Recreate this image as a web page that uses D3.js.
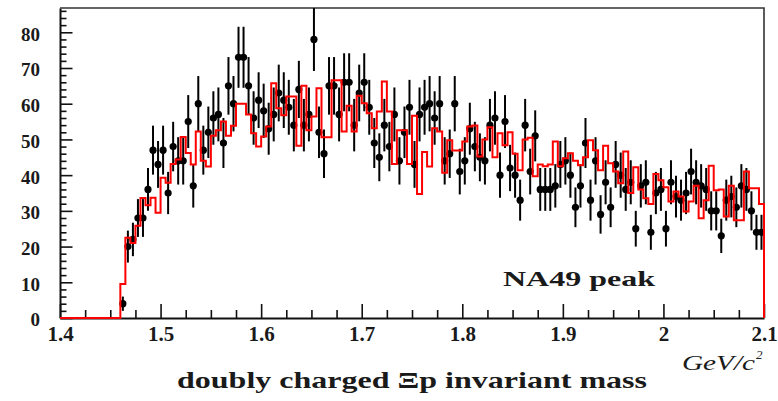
<!DOCTYPE html>
<html>
<head>
<meta charset="utf-8">
<script src="https://cdn.jsdelivr.net/npm/d3@7"></script>
<style>
    html, body { margin: 0; padding: 0; background: #fff; }
    svg { display: block; }
    text { font-family: "Liberation Serif", "Times New Roman", serif; }
    .axis text { font-weight: bold; fill: #1a1a1a; }
</style>
</head>
<body>
<svg id="chart" width="778" height="401"></svg>
<script>
// Measured counts per 5 MeV bin, first bin starts at 1.46 GeV/c^2
const dataCounts = [
    4, 20, 22, 28, 28, 36, 47, 43, 47, 35, 48, 44, 44, 55, 37, 60, 47, 52, 56, 57, 49, 65, 60, 73, 73, 65, 56, 61, 58, 53,
    57, 63, 61, 59, 54, 64, 54, 57, 78, 52, 46, 65, 65, 57, 66, 66, 54, 63, 66, 59, 49, 45, 54, 48, 57, 44, 52, 59, 43, 57,
    59, 60, 56, 60, 44, 46, 60, 41, 44, 53, 48, 45, 44, 54, 56, 40, 55, 42, 40, 33, 54, 41, 51, 36, 36, 36, 37, 43, 44, 40,
    31, 37, 49, 33, 44, 29, 38, 31, 43, 40, 36, 38, 25, 37, 38, 24, 35, 36, 25, 38, 34, 33, 35, 41, 38, 37, 36, 30, 30, 23,
    33, 34, 31, 37, 36, 30, 24, 24
];

// Red reference histogram (same binning)
const modelCounts = [
    9.5, 22.5, 21, 25.8, 33.6, 31.6, 33.7, 29.5, 39.3, 37.9, 43.1, 44.4, 50.7, 46.2, 43, 52.2, 44, 42.4, 51, 52.6,
    55, 51, 53.8, 60, 60, 57, 51.7, 48, 50.8, 53.6, 65.7, 58.7, 56.8, 62, 62, 48.2, 65, 52.6, 56.4, 64.3,
    50.6, 50.6, 66.6, 66.6, 52.2, 59.4, 52.2, 62.2, 60.1, 57.3, 53.1, 57.8, 66.2, 57.8, 43.1, 52.6, 52.6, 43.1, 56.6, 34.7,
    46.5, 42.4, 53.1, 52.2, 40.7, 49.8, 46.9, 46.9, 49.4, 53.6, 53.9, 45.2, 50, 53.4, 45, 51.7, 48.4, 52, 46, 41.4,
    50, 50.5, 39.7, 43, 42.5, 43, 49.4, 42.5, 44.7, 46.1, 44, 42.8, 45, 49.8, 47, 41.4, 48.2, 43.3, 41, 37.7,
    46.6, 35, 42.2, 36, 33.5, 31.9, 40.3, 38.6, 36.6, 32.6, 35.4, 34, 29.8, 32.6, 37, 27.9, 33, 42.6, 35.8, 36,
    28.4, 37, 27.4, 27.4, 41, 36.3, 36.3, 31.9
];

const binLow = 1.46;
const binWidth = 0.005;

const xDomain = [1.4, 2.1];
const yDomain = [0, 86.8];
const xTickValues = [1.4, 1.5, 1.6, 1.7, 1.8, 1.9, 2.0, 2.1];
const xTickLabels = ['1.4', '1.5', '1.6', '1.7', '1.8', '1.9', '2', '2.1'];
const yTickValues = [0, 10, 20, 30, 40, 50, 60, 70, 80];
const yTickLabels = ['0', '10', '20', '30', '40', '50', '60', '70', '80'];

const histChart = (function () {

    let svg,
        xScale,
        yScale,
        plot
    ;

    return {
        init
    };

    function init() {
        svg = d3.select('#chart');
        plot = { left: 60, right: 764, top: 8, bottom: 318 };

        xScale = d3.scaleLinear().domain(xDomain).range([plot.left, plot.right]);
        yScale = d3.scaleLinear().domain(yDomain).range([plot.bottom, plot.top]);

        svg.append('defs').append('clipPath').attr('id', 'plot-clip')
            .append('rect')
            .attr('x', plot.left).attr('y', plot.top)
            .attr('width', plot.right - plot.left).attr('height', plot.bottom - plot.top);

        drawAxes();
        drawPoints();
        drawModel();
        drawLabels();
    }

    function drawAxes() {
        // minor ticks
        let xMinor = d3.range(56).map((i) => 1.4 + i * 0.0125).filter((v, i) => i % 2 === 0 && i % 8 !== 0);
        let yMinor = d3.range(0, 87, 2).filter((v) => v % 10 !== 0);

        svg.append('g').attr('class', 'axis minor')
            .attr('transform', `translate(0,${plot.bottom})`)
            .call(d3.axisBottom(xScale).tickValues(xMinor).tickFormat('').tickSizeInner(-8).tickSizeOuter(0))
            .call((g) => g.select('.domain').remove());

        svg.append('g').attr('class', 'axis minor')
            .attr('transform', `translate(${plot.left},0)`)
            .call(d3.axisLeft(yScale).tickValues(yMinor).tickFormat('').tickSizeInner(-6.5).tickSizeOuter(0))
            .call((g) => g.select('.domain').remove());

        // major ticks with labels
        let xAxis = svg.append('g').attr('class', 'axis')
            .attr('transform', `translate(0,${plot.bottom})`)
            .call(d3.axisBottom(xScale).tickValues(xTickValues)
                .tickFormat((d, i) => xTickLabels[i]).tickSizeInner(-14).tickSizeOuter(0).tickPadding(8));
        xAxis.selectAll('text').style('font-size', '21px');

        let yAxis = svg.append('g').attr('class', 'axis')
            .attr('transform', `translate(${plot.left},0)`)
            .call(d3.axisLeft(yScale).tickValues(yTickValues)
                .tickFormat((d, i) => yTickLabels[i]).tickSizeInner(-12.5).tickSizeOuter(0).tickPadding(20));
        yAxis.selectAll('text').style('font-size', '19px').attr('dy', '0.42em');

        svg.selectAll('.axis .tick line').attr('stroke', '#111').attr('stroke-width', 1.6);
        svg.selectAll('.axis .domain').attr('stroke', '#111').attr('stroke-width', 2);

        // frame top and right
        svg.append('path')
            .attr('d', `M${plot.left},${plot.top}H${plot.right}V${plot.bottom}`)
            .attr('fill', 'none').attr('stroke', '#333').attr('stroke-width', 1.6);
    }

    function binCenter(i) {
        return binLow + (i + 0.5) * binWidth;
    }

    function drawPoints() {
        let g = svg.append('g').attr('clip-path', 'url(#plot-clip)');

        // poisson error, sqrt(N)
        g.selectAll('line.err').data(dataCounts).enter().append('line')
            .attr('class', 'err')
            .attr('x1', (d, i) => xScale(binCenter(i)))
            .attr('x2', (d, i) => xScale(binCenter(i)))
            .attr('y1', (d) => yScale(d - Math.sqrt(d)))
            .attr('y2', (d) => yScale(d + Math.sqrt(d)))
            .attr('stroke', '#000')
            .attr('stroke-width', 2);

        g.selectAll('circle').data(dataCounts).enter().append('circle')
            .attr('cx', (d, i) => xScale(binCenter(i)))
            .attr('cy', (d) => yScale(d))
            .attr('r', 3.6)
            .attr('fill', '#000');
    }

    function drawModel() {
        let p = d3.path();
        p.moveTo(xScale(xDomain[0]), yScale(0));
        p.lineTo(xScale(binLow), yScale(0));
        modelCounts.forEach((v, i) => {
            p.lineTo(xScale(binLow + i * binWidth), yScale(v));
            p.lineTo(xScale(binLow + (i + 1) * binWidth), yScale(v));
        });
        p.lineTo(xScale(binLow + modelCounts.length * binWidth), yScale(0));

        svg.append('path')
            .attr('d', p.toString())
            .attr('fill', 'none')
            .attr('stroke', '#ff0000')
            .attr('stroke-width', 2)
            .attr('stroke-linejoin', 'miter');
    }

    function drawLabels() {
        svg.append('text')
            .attr('x', 503).attr('y', 286)
            .attr('textLength', 152).attr('lengthAdjust', 'spacingAndGlyphs')
            .style('font-size', '21px').style('font-weight', 'bold').attr('fill', '#1a1a1a')
            .text('NA49 peak');

        svg.append('text')
            .attr('x', 682).attr('y', 370)
            .attr('textLength', 73).attr('lengthAdjust', 'spacingAndGlyphs')
            .style('font-size', '22px').style('font-style', 'italic').attr('fill', '#1a1a1a')
            .text('GeV/c');
        svg.append('text')
            .attr('x', 756).attr('y', 359)
            .style('font-size', '13px').style('font-style', 'italic').attr('fill', '#1a1a1a')
            .text('2');

        svg.append('text')
            .attr('x', 177).attr('y', 388)
            .attr('textLength', 470).attr('lengthAdjust', 'spacingAndGlyphs')
            .style('font-size', '24px').style('font-weight', 'bold').attr('fill', '#1a1a1a')
            .text('doubly charged \u039Ep invariant mass');
    }

})();

histChart.init();
</script>
</body>
</html>
